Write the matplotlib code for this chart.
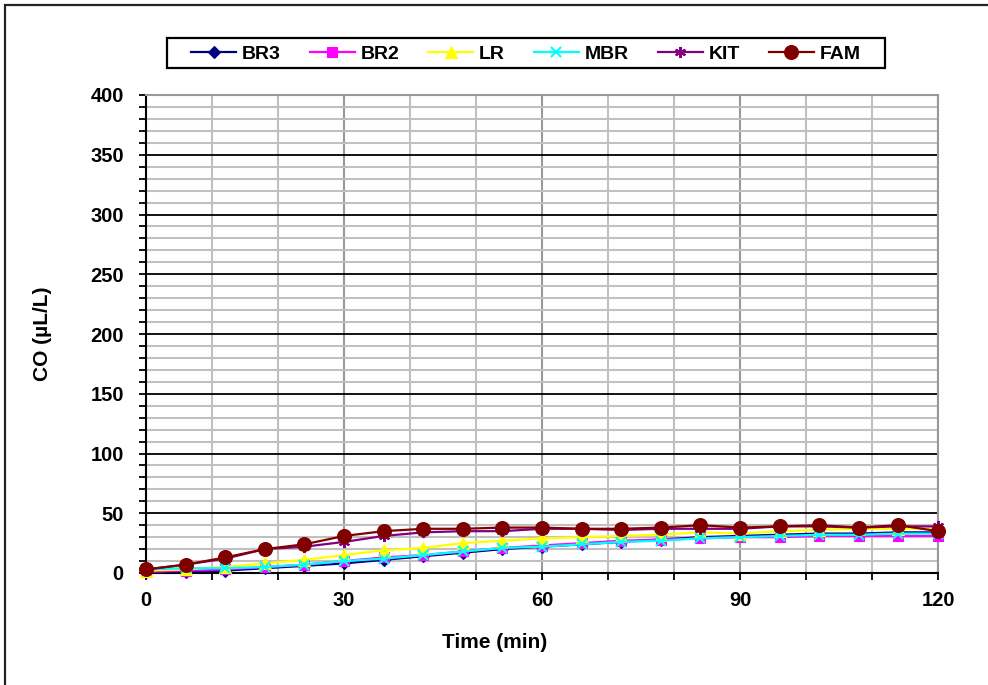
import numpy as np
import matplotlib.pyplot as plt
from matplotlib.patches import Rectangle
from matplotlib.ticker import MultipleLocator

plt.rcParams["font.family"] = ["Liberation Sans", "DejaVu Sans"]
plt.rcParams["font.weight"] = "bold"

# sampling times (min)
time = [0, 6, 12, 18, 24, 30, 36, 42, 48, 54, 60,
        66, 72, 78, 84, 90, 96, 102, 108, 114, 120]

# CO concentration (uL/L)
br3 = [1, 1, 2, 4, 6, 8, 11, 14, 17, 20, 22,
       24, 26, 28, 30, 31, 32, 33, 33, 34, 34]
br2 = [1, 2, 3, 5, 7, 10, 13, 15, 18, 21, 23,
       25, 27, 28, 29, 30, 30, 31, 31, 31, 31]
lr = [2, 3, 5, 8, 11, 15, 19, 21, 25, 27, 29,
      30, 31, 32, 34, 33, 35, 36, 37, 37, 37]
mbr = [3, 4, 4, 5, 7, 10, 12, 15, 18, 21, 22,
       24, 26, 27, 29, 30, 31, 32, 32, 33, 33]
kit = [3, 7, 12, 20, 22, 26, 31, 34, 35, 35, 37,
       37, 36, 37, 37, 37, 39, 39, 38, 39, 39]
fam = [3, 7, 13, 20, 24, 31, 35, 37, 37, 38, 38,
       37, 37, 38, 40, 38, 39, 40, 38, 40, 35]

series = [
    ("BR3", br3, "#000080", "D", 6),
    ("BR2", br2, "#FF00FF", "s", 7),
    ("LR", lr, "#FFFF00", "^", 8),
    ("MBR", mbr, "#00FFFF", "x", 7),
    ("KIT", kit, "#800080", (6, 2, 0), 8),
    ("FAM", fam, "#800000", "o", 10),
]

fig = plt.figure(figsize=(9.88, 6.85), dpi=100)
ax = fig.add_axes([146 / 988, 1 - 573 / 685, 792 / 988, 478 / 685])

# outer frame of the original chart box
fig.patches.append(Rectangle((5 / 988, -0.05), 1.1, 1 - 5 / 685 + 0.05,
                             transform=fig.transFigure, fill=False,
                             edgecolor="#222222", linewidth=1.6))

for name, vals, col, mk, ms in series:
    ax.plot(time, vals, color=col, marker=mk, markersize=ms, linewidth=1.6,
            markeredgewidth=1.5 if mk in ("x", (6, 2, 0)) else 0.8,
            markeredgecolor=col, label=name, clip_on=False, zorder=3)

ax.set_xlim(0, 120)
ax.set_ylim(0, 400)
ax.xaxis.set_major_locator(MultipleLocator(30))
ax.xaxis.set_minor_locator(MultipleLocator(10))
ax.yaxis.set_major_locator(MultipleLocator(50))
ax.yaxis.set_minor_locator(MultipleLocator(10))

# grid: light minor lines, black major horizontal, darker gray every 30 min
ax.grid(which="minor", color="#c0c0c0", linewidth=1.5)
ax.grid(which="major", axis="y", color="black", linewidth=1.3)
ax.grid(which="major", axis="x", color="#999999", linewidth=1.5)
ax.set_axisbelow(True)

for side in ("top", "right"):
    ax.spines[side].set_color("#999999")
    ax.spines[side].set_linewidth(1.5)
for side in ("left", "bottom"):
    ax.spines[side].set_linewidth(1.5)

ax.tick_params(which="both", direction="out", width=1.3, length=5,
               labelsize=14.5, top=False, right=False)
ax.tick_params(axis="y", which="major", pad=11)
ax.tick_params(axis="x", which="major", pad=8)
for lab in ax.get_xticklabels() + ax.get_yticklabels():
    lab.set_fontweight("bold")

ax.set_xlabel("Time (min)", fontsize=15, fontweight="bold", va="center")
ax.xaxis.set_label_coords((495 - 146) / 792, -(642 - 573) / 478)
ax.set_ylabel("CO (µL/L)", fontsize=15, fontweight="bold", va="center")
ax.yaxis.set_label_coords((42 - 146) / 792, 0.5)

leg = fig.legend(loc="center", bbox_to_anchor=(526 / 988, 1 - 54 / 685),
                 ncol=6, fontsize=14, frameon=False,
                 handlelength=2.3, columnspacing=1.5, handletextpad=0.3)
for t in leg.get_texts():
    t.set_fontweight("bold")
# legend box as drawn in the original
fig.patches.append(Rectangle((167 / 988, 1 - 68 / 685), 718 / 988, 30 / 685,
                             transform=fig.transFigure, fill=False,
                             edgecolor="black", linewidth=1.6))

fig.savefig("out.png", dpi=100)
